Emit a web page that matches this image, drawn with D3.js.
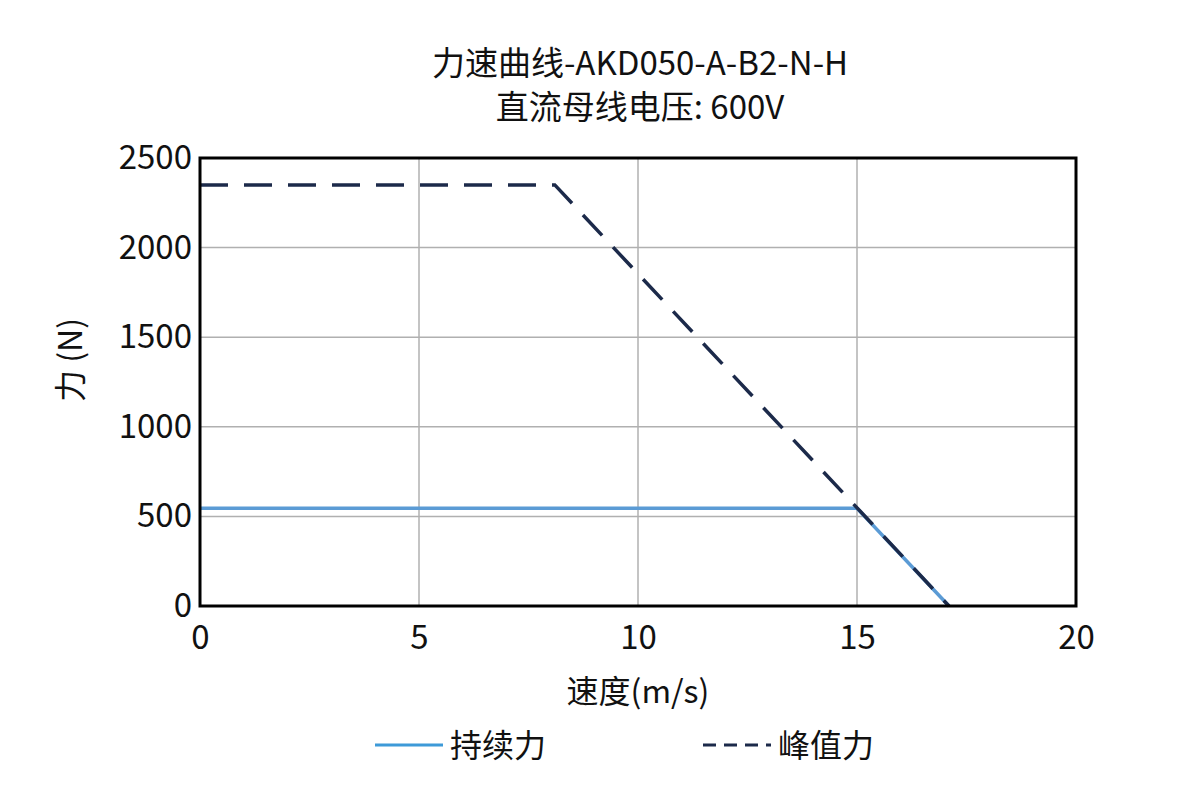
<!DOCTYPE html>
<html><head><meta charset="utf-8">
<script src="https://cdn.jsdelivr.net/npm/d3@7"></script>
<style>body{margin:0;background:#fff}text{font-family:"Noto Sans CJK SC","Noto Sans",sans-serif;fill:#111}</style>
</head><body>
<svg id="c" width="1186" height="795"></svg>
<script>
const xTicks=[0,5,10,15,20];
const yTicks=[0,500,1000,1500,2000,2500];
const contSpeed=[0,15,17.1];
const contForce=[545,545,0];
const peakSpeed=[0,8.1,17.1];
const peakForce=[2350,2350,0];
const titleLines=["力速曲线-AKD050-A-B2-N-H","直流母线电压: 600V"];
const svg=d3.select("#c");
const L=200,R=1076,T=158,B=606;
const x=d3.scaleLinear().domain([0,20]).range([L,R]);
const y=d3.scaleLinear().domain([0,2500]).range([B,T]);
const g=svg.append("g");
g.selectAll(".vx").data(xTicks).join("line").attr("x1",d=>x(d)).attr("x2",d=>x(d)).attr("y1",T).attr("y2",B).attr("stroke","#b0b0b0").attr("stroke-width",1.5);
g.selectAll(".hy").data(yTicks).join("line").attr("y1",d=>y(d)).attr("y2",d=>y(d)).attr("x1",L).attr("x2",R).attr("stroke","#b0b0b0").attr("stroke-width",1.5);
const line=d3.line().x(d=>x(d[0])).y(d=>y(d[1]));
g.append("path").attr("d",line(contSpeed.map((s,i)=>[s,contForce[i]]))).attr("fill","none").attr("stroke","#5b9bd5").attr("stroke-width",3.5);
g.append("path").attr("d",line(peakSpeed.map((s,i)=>[s,peakForce[i]]))).attr("fill","none").attr("stroke","#1c2a4a").attr("stroke-width",3.5).attr("stroke-dasharray","28,16");
g.append("rect").attr("x",L).attr("y",T).attr("width",R-L).attr("height",B-T).attr("fill","none").attr("stroke","#000").attr("stroke-width",3);
const xa=svg.append("g").attr("transform",`translate(0,${B})`).call(d3.axisBottom(x).tickValues(xTicks).tickFormat(d3.format("d")).tickSize(0).tickPadding(20));
const ya=svg.append("g").attr("transform",`translate(${L},0)`).call(d3.axisLeft(y).tickValues(yTicks).tickFormat(d3.format("d")).tickSize(0).tickPadding(8));
[xa,ya].forEach(a=>{a.select(".domain").remove();a.selectAll("text").style("font-size","33px").attr("fill","#111").style("font-family","'Noto Sans CJK SC'");});
titleLines.forEach((t,i)=>svg.append("text").attr("x",640).attr("y",75+i*44).attr("text-anchor","middle").style("font-size","33px").text(t));
svg.append("text").attr("x",638).attr("y",703).attr("text-anchor","middle").style("font-size","32px").text("速度(m/s)");
svg.append("text").attr("transform","translate(82,360) rotate(-90)").attr("text-anchor","middle").style("font-size","32px").text("力 (N)");
const leg=[{n:"持续力",c:"#3d9ad8",d:null,x:375},{n:"峰值力",c:"#1c2a4a",d:"13,8",x:703}];
leg.forEach(l=>{svg.append("line").attr("x1",l.x).attr("x2",l.x+68).attr("y1",745).attr("y2",745).attr("stroke",l.c).attr("stroke-width",3).attr("stroke-dasharray",l.d);
svg.append("text").attr("x",l.x+75).attr("y",757).style("font-size","32px").text(l.n);});
</script></body></html>
